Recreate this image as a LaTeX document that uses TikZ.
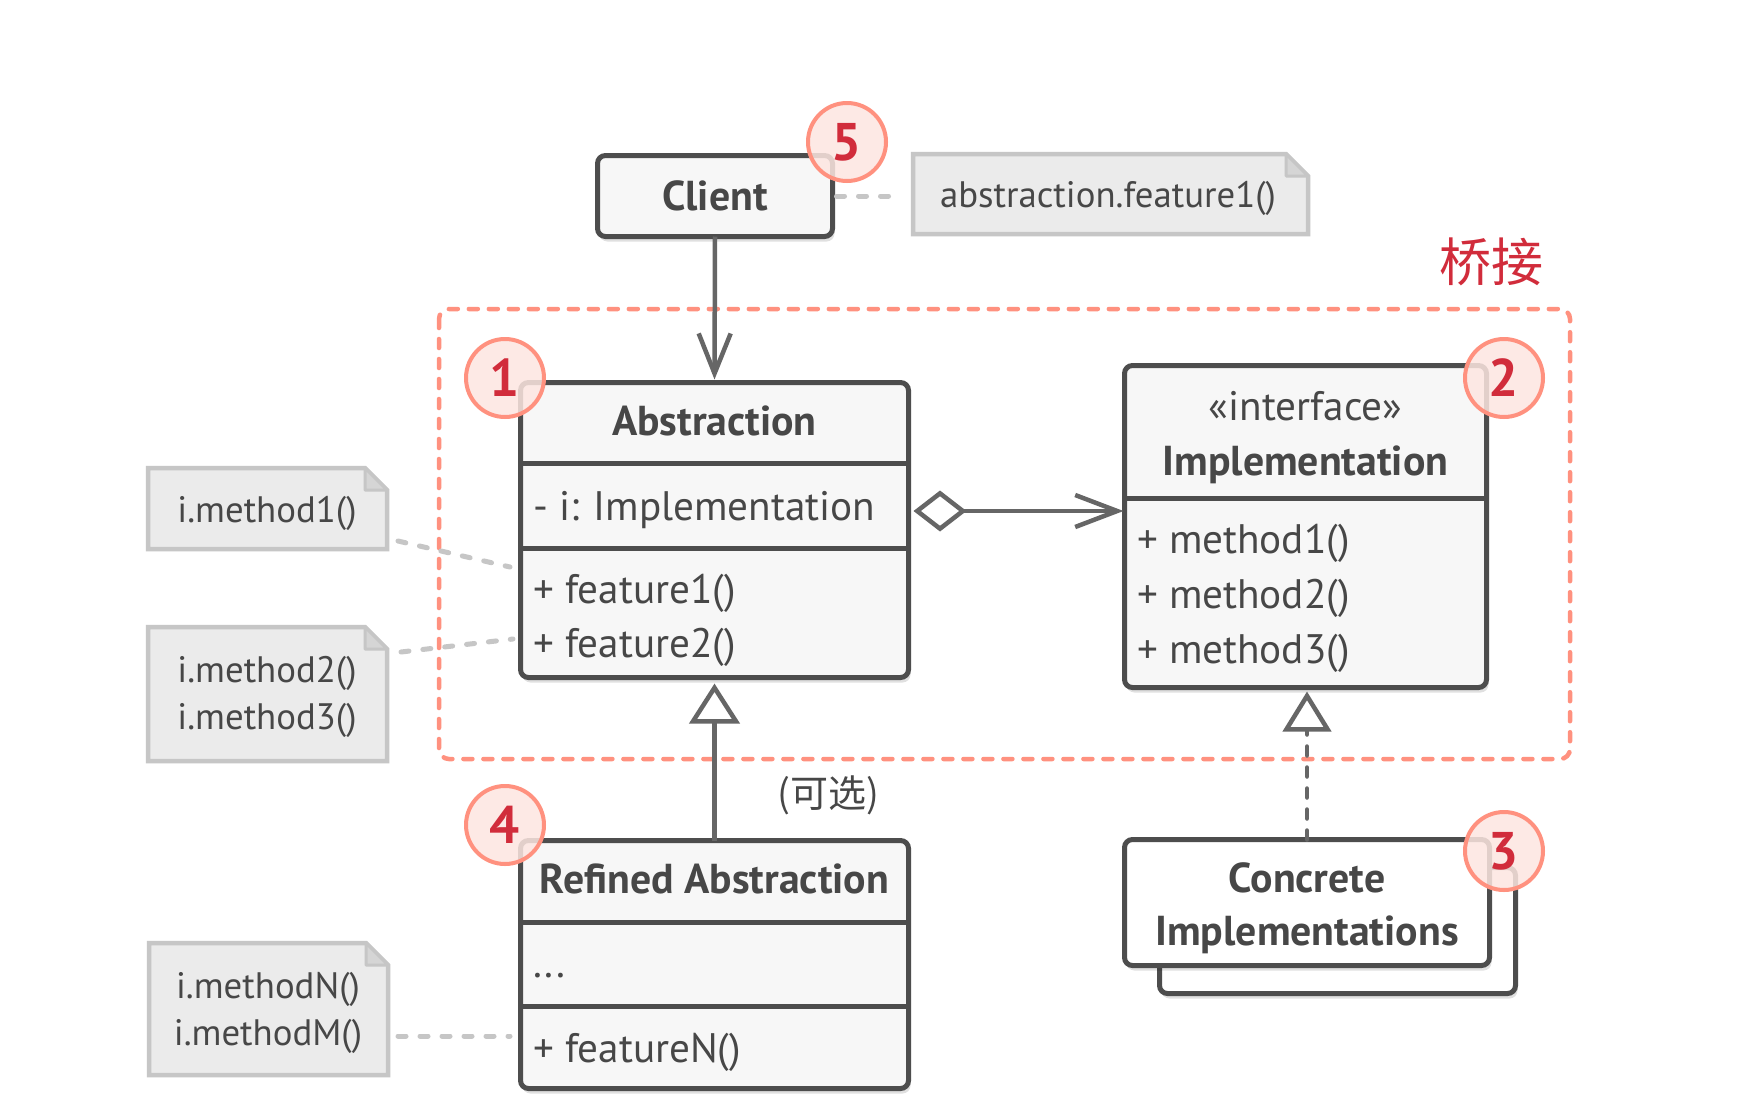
\documentclass[tikz,border=0pt]{standalone}
\usepackage{fontspec}
\setmainfont{PT Sans}
\newfontfamily\cjk{Noto Sans CJK SC}
\usetikzlibrary{arrows.meta,calc,shadows}
\definecolor{boxline}{HTML}{4D4D4D}
\definecolor{boxfill}{HTML}{F7F7F7}
\definecolor{txtc}{HTML}{474747}
\definecolor{conn}{HTML}{666666}
\definecolor{notefill}{HTML}{EBEBEB}
\definecolor{noteline}{HTML}{C6C6C6}
\definecolor{salmon}{HTML}{FF917F}
\definecolor{badgefill}{HTML}{FDE6E1}
\definecolor{badgetxt}{HTML}{D12C3B}
\begin{document}
\begin{tikzpicture}[x=1pt,y=-1pt,
  umlbox/.style={draw=boxline, fill=boxfill, line width=5pt, rounded corners=8pt,
    inner sep=0pt, outer sep=0pt,
    drop shadow={shadow xshift=2pt, shadow yshift=-5pt, opacity=0.12, fill=black}},
  whitebox/.style={umlbox, fill=white},
  sepline/.style={draw=boxline, line width=5pt},
  txt/.style={text=txtc, inner sep=0pt, font=\fontsize{41.2}{48}\selectfont},
  btxt/.style={text=txtc, inner sep=0pt, font=\fontsize{41.8}{48}\selectfont\bfseries},
  notetxt/.style={text=txtc, inner sep=0pt, font=\fontsize{36.8}{42}\selectfont},
  notebg/.style={inner sep=0pt, outer sep=0pt},
  notedraw/.style={draw=noteline, fill=notefill, line width=4.5pt, line join=miter},
  foldline/.style={draw=noteline, fill=noteline!60!notefill, line width=3pt, line join=round},
  dotconn/.style={draw=noteline, line width=5pt, line cap=round, dash pattern=on 8pt off 14pt},
  badge/.style={circle, draw=salmon, line width=4pt, fill=badgefill, fill opacity=0.85,
    text opacity=1, minimum size=78pt, inner sep=0pt, text=badgetxt,
    font=\fontsize{53}{53}\selectfont\bfseries},
  assoc/.style={draw=conn, line width=4.5pt, -{Straight Barb[length=40pt,width=32pt]}},
  aggr/.style={draw=conn, line width=4.5pt,
    {Diamond[open,length=53pt,width=41pt]}-{Straight Barb[length=42pt,width=32pt]}},
  inherit/.style={draw=conn, line width=4.5pt, -{Triangle[open,length=40pt,width=50pt]}},
  realize/.style={draw=conn, line width=4.5pt, line cap=round, dash pattern=on 9pt off 12pt,
    -{Triangle[open,length=40pt,width=48pt]}},
  bridge/.style={draw=salmon, line width=4.5pt, line cap=round, rounded corners=10pt,
    dash pattern=on 9pt off 11pt}
]
\useasboundingbox (0,0) rectangle (1756,1114);
\fill[white] (0,0) rectangle (1756,1114);

% bridge region
\draw[bridge] (439,309) rectangle (1570,759);
\node[text=badgetxt, inner sep=0pt, font=\cjk\fontsize{52}{52}\selectfont] (title) at (1491,262) {桥接};

% Client
\node[umlbox, minimum width=235pt, minimum height=81pt] (client) at (715,196) {};
\node[btxt, anchor=base] (tclient) at (715,210) {Client};

% Abstraction
\node[umlbox, minimum width=388pt, minimum height=295pt] (abs) at (714.5,530) {};
\draw[sepline] (abs.west |- 0,463) -- (abs.east |- 0,463);
\draw[sepline] (abs.west |- 0,548) -- (abs.east |- 0,548);
\node[btxt, anchor=base] (tabs) at (714.5,435) {Abstraction};
\node[txt, anchor=base west] (tattr) at (533,520) {- i: Implementation};
\node[txt, anchor=base west] (tf1) at (533,603) {+ feature1()};
\node[txt, anchor=base west] (tf2) at (533,657) {+ feature2()};

% Implementation
\node[umlbox, minimum width=362pt, minimum height=322pt] (impl) at (1305.5,526.5) {};
\draw[sepline] (impl.west |- 0,498) -- (impl.east |- 0,498);
\node[txt, anchor=base] (tiface) at (1305.5,420) {«interface»};
\node[btxt, anchor=base] (timpl) at (1305.5,475) {Implementation};
\node[txt, anchor=base west] (tm1) at (1137,553) {+ method1()};
\node[txt, anchor=base west] (tm2) at (1137,608) {+ method2()};
\node[txt, anchor=base west] (tm3) at (1137,663) {+ method3()};

% Refined Abstraction
\node[umlbox, minimum width=388pt, minimum height=248pt] (refined) at (714.5,964.5) {};
\draw[sepline] (refined.west |- 0,922) -- (refined.east |- 0,922);
\draw[sepline] (refined.west |- 0,1006) -- (refined.east |- 0,1006);
\node[btxt, anchor=base] (tref) at (714.5,893) {Refined Abstraction};
\node[txt, anchor=base west] (tdots) at (533,977) {...};
\node[txt, anchor=base west] (tfn) at (533,1062) {+ featureN()};

% Concrete Implementations
\node[whitebox, minimum width=356pt, minimum height=126pt] (concB) at (1337.5,930.5) {};
\node[whitebox, minimum width=365pt, minimum height=126pt] (concF) at (1307,902.5) {};
\node[btxt, anchor=base] (tconc1) at (1307,892) {Concrete};
\node[btxt, anchor=base] (tconc2) at (1307,945) {Implementations};

% notes
\node[notebg, minimum width=395pt, minimum height=80pt] (note0) at (1110.5,194) {};
\node[notebg, minimum width=239pt, minimum height=81pt] (note1) at (267.5,508.5) {};
\node[notebg, minimum width=239pt, minimum height=134pt] (note2) at (267.5,694) {};
\node[notebg, minimum width=239pt, minimum height=132pt] (note3) at (268.5,1009) {};
\foreach \n in {note0,note1,note2,note3}{
  \draw[notedraw] (\n.south west) -- (\n.north west) -- ($(\n.north east)+(-22,0)$)
     -- ($(\n.north east)+(0,22)$) -- (\n.south east) -- cycle;
  \draw[foldline] ($(\n.north east)+(-22,0)$) -- ($(\n.north east)+(-22,22)$)
     -- ($(\n.north east)+(0,22)$) -- cycle;
}
\node[notetxt, anchor=base] (tn0) at (1108,207) {abstraction.feature1()};
\node[notetxt, anchor=base] (tn1) at (267,522) {i.method1()};
\node[notetxt, anchor=base] (tn2a) at (267,682) {i.method2()};
\node[notetxt, anchor=base] (tn2b) at (267,729) {i.method3()};
\node[notetxt, anchor=base] (tn3a) at (268,998) {i.methodN()};
\node[notetxt, anchor=base] (tn3b) at (268,1045) {i.methodM()};

% note connectors
\draw[dotconn, shorten <=4pt, shorten >=12pt] (client.east) -- (client.east -| note0.west);
\coordinate (c1a) at (398,541);
\coordinate (c1b) at (510,567);
\draw[dotconn] (c1a) -- (c1b);
\coordinate (c2a) at (401,652);
\coordinate (c2b) at (513,639);
\draw[dotconn] (c2a) -- (c2b);
\coordinate (c3a) at (398,1036);
\coordinate (c3b) at (510,1036);
\draw[dotconn] (c3a) -- (c3b);

% relations
\draw[assoc, shorten >=3pt] (client.south) -- (abs.north);
\draw[aggr, shorten <=5pt, shorten >=1pt] ([yshift=19pt]abs.east) -- ([yshift=19pt]abs.east -| impl.west);
\draw[inherit, shorten >=6pt] (refined.north) -- (abs.south);
\draw[realize, shorten >=4pt] (concF.north) -- (concF.north |- impl.south);
\node[text=txtc, inner sep=0pt, font=\cjk\fontsize{38}{40}\selectfont] (opt) at (828,795) {(可选)};

% badges
\node[badge] (b5) at (847,142) {5};
\node[badge] (b1) at (505,378) {1};
\node[badge] (b2) at (1504,378) {2};
\node[badge] (b4) at (505,825) {4};
\node[badge] (b3) at (1504,851) {3};
\end{tikzpicture}
\end{document}
